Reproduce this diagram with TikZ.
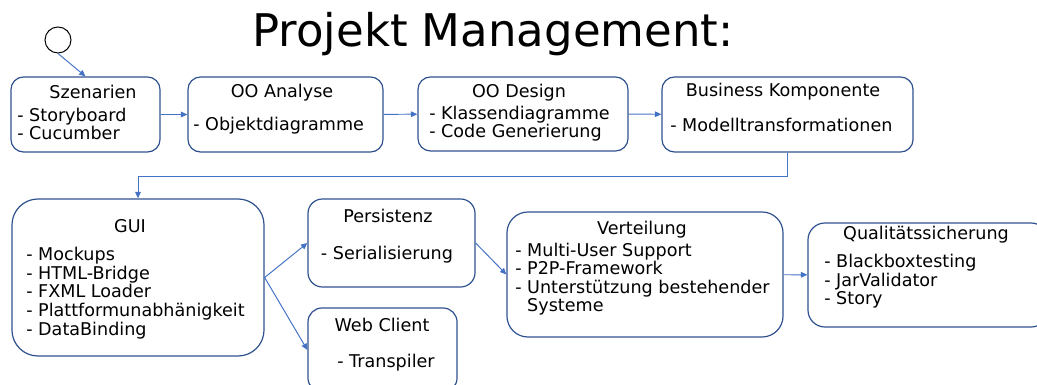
\documentclass[tikz,border=0pt]{standalone}
\usepackage{fontspec}
\setmainfont{DejaVu Sans}
\usetikzlibrary{arrows.meta}
\definecolor{rahmen}{HTML}{2F528F}
\definecolor{linie}{HTML}{4472C4}
\tikzset{
  kasten/.style={draw=rahmen, line width=0.85pt, inner sep=0pt},
  kopf/.style={anchor=base, inner sep=0pt, font=\fontsize{12.5}{13.2}\selectfont},
  liste/.style={anchor=base west, inner sep=0pt, align=left, font=\fontsize{12.5}{13.2}\selectfont},
  pfeil/.style={draw=linie, line width=0.7pt, -{Triangle[length=1.6mm,width=1.4mm]}}
}
\begin{document}
\begin{tikzpicture}[x=0.025cm, y=-0.025cm]
    \useasboundingbox (0,0) rectangle (1037,385);
    \node[anchor=base, inner sep=0pt, font=\fontsize{32}{32}\selectfont] (titel) at (493,47) {Projekt Management:};
    \node[draw, circle, line width=0.7pt, minimum size=0.65cm, inner sep=0pt] (start) at (58,40) {};

    \node[kasten, minimum width=3.725cm, minimum height=1.875cm, rounded corners=12.5*0.025cm] (szen) at (85.5,114.5) {};
    \node[kasten, minimum width=4.875cm, minimum height=1.875cm, rounded corners=12.5*0.025cm] (anal) at (285.5,114.5) {};
    \node[kasten, minimum width=5.25cm, minimum height=1.85cm, rounded corners=12.5*0.025cm] (des) at (523,114) {};
    \node[kasten, minimum width=6.275cm, minimum height=1.875cm, rounded corners=12.5*0.025cm] (bus) at (787.5,114.5) {};
    \node[kasten, minimum width=6.3cm, minimum height=3.925cm, rounded corners=26*0.025cm] (gui) at (138,277.5) {};
    \node[kasten, minimum width=4.175cm, minimum height=2.2cm, rounded corners=14.5*0.025cm] (pers) at (391.5,243) {};
    \node[kasten, minimum width=3.725cm, minimum height=2.1cm, rounded corners=14*0.025cm] (web) at (382.5,350) {};
    \node[kasten, minimum width=6.9cm, minimum height=3.125cm, rounded corners=21*0.025cm] (vert) at (645,274.5) {};
    \node[kasten, minimum width=6.0cm, minimum height=2.6cm, rounded corners=17*0.025cm] (qual) at (928,275) {};

    % Texte (Listen: Grundlinie der letzten Zeile)
    \node[kopf] (szent) at (93,99) {Szenarien};
    \node[liste] (szenl) at (17,140) {- Storyboard\\- Cucumber};
    \node[kopf] (analt) at (282,98) {OO Analyse};
    \node[liste] (anall) at (193,131) {- Objektdiagramme};
    \node[kopf] (dest) at (519,98) {OO Design};
    \node[liste] (desl) at (429,138) {- Klassendiagramme\\- Code Generierung};
    \node[kopf] (bust) at (783,97) {Business Komponente};
    \node[liste] (busl) at (670,132) {- Modelltransformationen};
    \node[kopf] (guit) at (130,233) {GUI};
    \node[liste] (guil) at (26,335) {- Mockups\\- HTML-Bridge\\- FXML Loader\\- Plattformunabhänigkeit\\- DataBinding};
    \node[kopf] (perst) at (388,223) {Persistenz};
    \node[kopf] (persl) at (387,260) {- Serialisierung};
    \node[kopf] (webt) at (382,332) {Web Client};
    \node[kopf] (webl) at (386,367) {- Transpiler};
    \node[kopf] (vertt) at (642,235) {Verteilung};
    \node[liste] (vertl) at (515,312) {- Multi-User Support\\- P2P-Framework\\- Unterstützung bestehender\\\phantom{- }Systeme};
    \node[kopf] (qualt) at (926,240) {Qualitätssicherung};
    \node[liste] (quall) at (824,305) {- Blackboxtesting\\- JarValidator\\- Story};

    % Pfeile
    \draw[pfeil] (start.south) -- (szen.north);
    \draw[pfeil] (szen) -- (anal);
    \draw[pfeil] (anal) -- (des);
    \draw[pfeil] (des) -- (bus);
    \draw[pfeil] (bus.south) -- ++(0,24) -| (gui.north);
    \draw[pfeil] (gui.east) -- (pers.west);
    \draw[pfeil] (gui.east) -- (web.west);
    \draw[pfeil] (pers.east) -- (vert.west);
    \draw[pfeil] (vert) -- (qual);
\end{tikzpicture}
\end{document}
